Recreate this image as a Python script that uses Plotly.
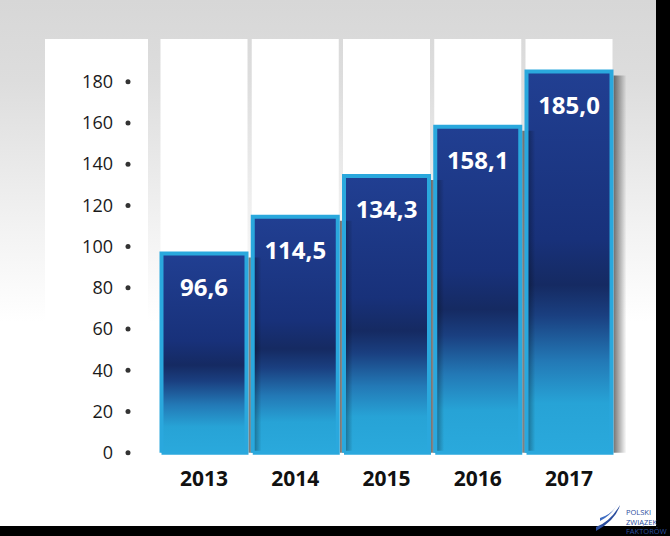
import base64
import plotly.graph_objects as go

# ---------------- data ----------------
years = ["2013", "2014", "2015", "2016", "2017"]
values = [96.6, 114.5, 134.3, 158.1, 185.0]
value_labels = ["96,6", "114,5", "134,3", "158,1", "185,0"]
y_ticks = [0, 20, 40, 60, 80, 100, 120, 140, 160, 180]

# ---------------- geometry (pixel calibration of the canvas) ----------------
W, H = 670, 536
X0_PX, DX_PX = 204.0, 91.25      # pixel of first category, pixels per category
Y0_PX, DY_PX = 452.7, 2.061      # pixel of value 0, pixels per unit
x_range = [-X0_PX / DX_PX, (W - X0_PX) / DX_PX]
y_range = [-(H - Y0_PX) / DY_PX, Y0_PX / DY_PX]


def px_x(p):
    return (p - X0_PX) / DX_PX


def px_dy(p):
    return p / DY_PX


def px_dx(p):
    return p / DX_PX


def paper(px, py):
    return px / W, 1 - py / H


HALF = px_dx(42.5)
BORDER = "#2aa8dd"
GRAD = [
    [0.00, "#2aa9dc"],
    [0.13, "#27a3d6"],
    [0.24, "#2379b6"],
    [0.36, "#1a3f80"],
    [0.44, "#152a62"],
    [0.56, "#18317a"],
    [1.00, "#213f92"],
]

fig = go.Figure()

# bar fills (gradient)
for i, v in enumerate(values):
    fig.add_trace(go.Scatter(
        x=[i - HALF, i + HALF, i + HALF, i - HALF, i - HALF],
        y=[0, 0, v, v, 0],
        mode="lines", fill="toself",
        fillgradient=dict(type="vertical", colorscale=GRAD),
        line=dict(width=0), hoverinfo="skip", showlegend=False,
    ))

# drop shadows to the right of each bar
for i, v in enumerate(values):
    xs = i + HALF + px_dx(2)
    xe = xs + px_dx(13)
    fig.add_trace(go.Scatter(
        x=[xs, xe, xe, xs, xs],
        y=[0, 0, v - px_dy(4), v - px_dy(4), 0],
        mode="lines", fill="toself",
        fillgradient=dict(type="horizontal",
                          colorscale=[[0, "rgba(0,0,0,0.55)"], [1, "rgba(0,0,0,0)"]]),
        line=dict(width=0), hoverinfo="skip", showlegend=False,
    ))

# bar borders
for i, v in enumerate(values):
    fig.add_trace(go.Scatter(
        x=[i - HALF, i + HALF, i + HALF, i - HALF, i - HALF],
        y=[0, 0, v, v, 0],
        mode="lines", line=dict(color=BORDER, width=4),
        hoverinfo="skip", showlegend=False,
    ))

# value labels
fig.add_trace(go.Scatter(
    x=list(range(len(years))),
    y=[v - px_dy(36.5) for v in values],
    mode="text", text=value_labels,
    textfont=dict(family="Open Sans", size=24, color="white", weight="bold"),
    hoverinfo="skip", showlegend=False,
))

# bullets next to y tick labels
fig.add_trace(go.Scatter(
    x=[px_x(128)] * len(y_ticks), y=y_ticks,
    mode="markers", marker=dict(size=5, color="#333333"),
    hoverinfo="skip", showlegend=False,
))

# ---------------- background ----------------
svg = f"""<svg xmlns='http://www.w3.org/2000/svg' width='{W}' height='{H}' viewBox='0 0 {W} {H}' preserveAspectRatio='none'>
<defs><linearGradient id='g' x1='0' y1='0' x2='0' y2='1'>
<stop offset='0' stop-color='#d7d7d7'/>
<stop offset='0.15' stop-color='#dddddd'/>
<stop offset='0.42' stop-color='#f2f2f2'/>
<stop offset='0.6' stop-color='#ffffff'/>
<stop offset='1' stop-color='#ffffff'/>
</linearGradient></defs>
<rect width='{W}' height='{H}' fill='url(#g)'/></svg>"""
bg_src = "data:image/svg+xml;base64," + base64.b64encode(svg.encode()).decode()

shapes = []
# white columns
col_top = px_dy(Y0_PX - 39)
cols = [(px_x(45), px_x(148))] + [(i - px_dx(43.5), i + px_dx(43.5)) for i in range(len(years))]
for x0, x1 in cols:
    shapes.append(dict(type="rect", xref="x", yref="y", x0=x0, x1=x1, y0=-1, y1=col_top,
                       fillcolor="white", line=dict(width=0), layer="below"))

# black edges of the slide
shapes.append(dict(type="rect", xref="paper", yref="paper", x0=656 / W, x1=1, y0=0, y1=1,
                   fillcolor="black", line=dict(width=0), layer="above"))
shapes.append(dict(type="rect", xref="paper", yref="paper", x0=0, x1=1, y0=0, y1=1 - 526 / H,
                   fillcolor="black", line=dict(width=0), layer="above"))


# logo swoosh
def ppath(points):
    s = ""
    for cmd, pts in points:
        s += cmd + " " + " ".join(f"{paper(a, b)[0]:.5f},{paper(a, b)[1]:.5f}" for a, b in pts) + " "
    return s + "Z"


shapes.append(dict(type="path", xref="paper", yref="paper", layer="above",
                   path=ppath([("M", [(596, 527)]), ("Q", [(610, 522), (620, 505)]),
                               ("Q", [(616, 520), (596, 531)])]),
                   fillcolor="#2b4d9e", line=dict(width=0)))
shapes.append(dict(type="path", xref="paper", yref="paper", layer="above",
                   path=ppath([("M", [(600, 521)]), ("Q", [(612, 515), (618, 503)]),
                               ("Q", [(613, 514), (600, 518)])]),
                   fillcolor="#3d6cc2", line=dict(width=0)))

annotations = []
for txt, yy in [("POLSKI", 512), ("ZWIĄZEK", 521.5), ("FAKTORÓW", 531)]:
    ax_, ay_ = paper(624, yy)
    annotations.append(dict(x=ax_, y=ay_, xref="paper", yref="paper", text=txt, showarrow=False,
                            xanchor="left", yanchor="middle",
                            font=dict(family="Open Sans", size=7.5, color="#2b4d9e")))

fig.update_layout(
    width=W, height=H,
    margin=dict(l=0, r=0, t=0, b=0),
    paper_bgcolor="white", plot_bgcolor="rgba(0,0,0,0)",
    showlegend=False,
    images=[dict(source=bg_src, xref="paper", yref="paper", x=0, y=1, sizex=1, sizey=1,
                 sizing="stretch", layer="below")],
    shapes=shapes, annotations=annotations,
    xaxis=dict(range=x_range, domain=[0, 1], anchor="free", position=1 - Y0_PX / H,
               tickmode="array", tickvals=list(range(len(years))), ticktext=years,
               tickfont=dict(family="Open Sans", size=21, color="#111111", weight="bold"),
               showgrid=False, zeroline=False, showline=False, ticks="",
               ticklabelstandoff=11, fixedrange=True),
    yaxis=dict(range=y_range, domain=[0, 1], anchor="free", position=113 / W,
               tickmode="array", tickvals=y_ticks,
               tickfont=dict(family="Open Sans", size=18, color="#1a1a1a"),
               showgrid=False, zeroline=False, showline=False, ticks="",
               ticklabelstandoff=0, fixedrange=True),
)

fig.write_html("out.html")
